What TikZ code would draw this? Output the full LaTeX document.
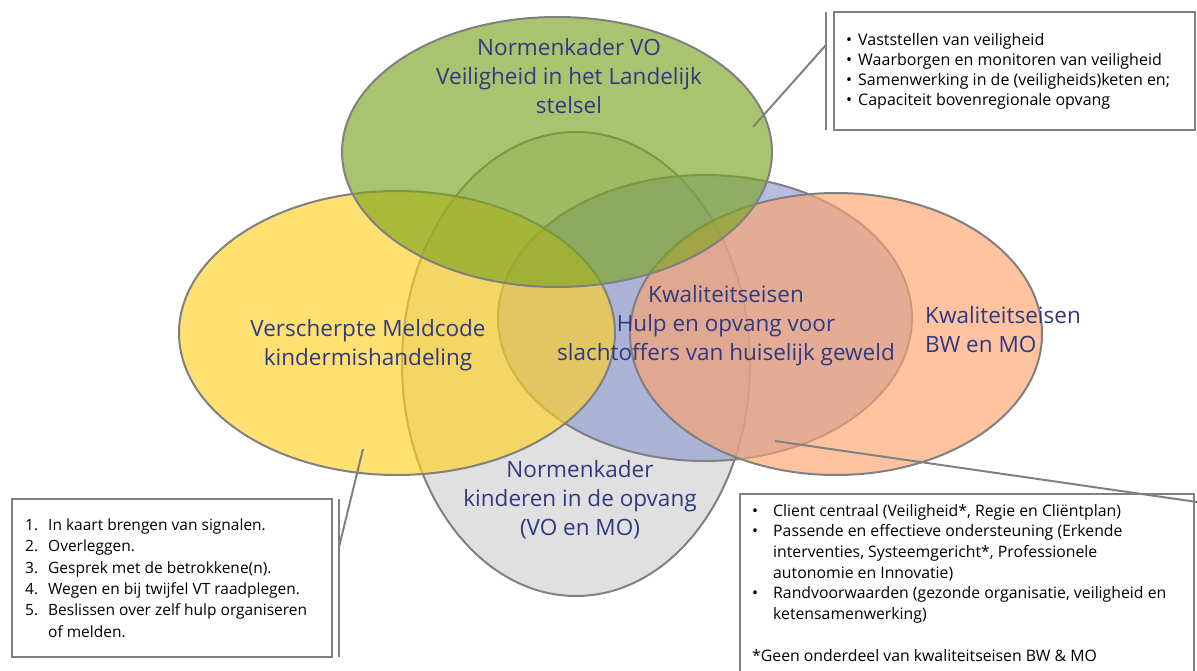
\documentclass[tikz,border=0pt]{standalone}
\usepackage{fontspec}
\setmainfont{Open Sans}
\definecolor{lbl}{RGB}{47,58,130}
\definecolor{cgreen}{RGB}{123,165,32}
\definecolor{cyellow}{RGB}{255,208,35}
\definecolor{cblue}{RGB}{142,155,208}
\definecolor{csalmon}{RGB}{255,163,109}
\definecolor{cgrey}{RGB}{208,208,208}
\definecolor{edgegrey}{RGB}{128,128,128}
\newcommand{\tbul}[1]{\strut\makebox[#1][l]{•}}
\begin{document}
\begin{tikzpicture}[x=1pt,y=-1pt,
  setshape/.style={fill=#1, fill opacity=0.65, draw=edgegrey, line width=2pt},
  lbltext/.style={text=lbl, font=\fontsize{22.5}{29}\selectfont, align=center, inner sep=0pt},
  boxtext/.style={text=black, align=left, inner sep=0pt, anchor=north west},
  frame/.style={draw=edgegrey, line width=2.3pt},
  callout/.style={draw=edgegrey, line width=2pt},
]
\useasboundingbox (0,0) rectangle (1197,671);
% sets
\draw[setshape=cgrey]   (576,364) ellipse [x radius=174pt, y radius=232pt];
\draw[setshape=cblue]   (705,318) ellipse [x radius=207pt, y radius=143pt];
\draw[setshape=cyellow] (397,333) ellipse [x radius=218pt, y radius=142pt];
\draw[setshape=csalmon] (836,334) ellipse [x radius=206pt, y radius=141pt];
\draw[setshape=cgreen]  (557,152) ellipse [x radius=215pt, y radius=135pt];
% labels
\node[lbltext] (tgreen) at (569,79) {\strut Normenkader VO\\\strut Veiligheid in het Landelijk\\\strut stelsel};
\node[lbltext] (tyellow) at (368,345) {\strut Verscherpte Meldcode\\\strut kindermishandeling};
\node[lbltext] (tblue) at (726,326) {\strut Kwaliteitseisen\\\strut Hulp en opvang voor\\\strut slachtoffers van huiselijk geweld};
\node[lbltext, align=left, anchor=west] (tsalmon) at (925,332.5) {\strut Kwaliteitseisen\\\strut BW en MO};
\node[lbltext] (tgrey) at (580,501) {\strut Normenkader\\\strut kinderen in de opvang\\\strut (VO en MO)};
% top right box
\draw[frame] (834,12) rectangle (1195,130);
\coordinate (trTop) at (826,12);
\coordinate (trBot) at (826,130);
\draw[frame] (trTop) -- (trBot);
\coordinate (trIn) at (753,127);
\coordinate (trOut) at (826,45);
\draw[callout] (trIn) -- (trOut);
\node[boxtext, font=\fontsize{16}{20}\selectfont] (trtext) at (846,31.8) {%
\tbul{12pt}Vaststellen van veiligheid\\
\tbul{12pt}Waarborgen en monitoren van veiligheid\\
\tbul{12pt}Samenwerking in de (veiligheids)keten en;\\
\tbul{12pt}Capaciteit bovenregionale opvang};
% bottom left box
\draw[frame] (12,499) rectangle (332,657);
\coordinate (blTop) at (339,499);
\coordinate (blBot) at (339,657);
\draw[frame] (blTop) -- (blBot);
\coordinate (blIn) at (363,449);
\coordinate (blOut) at (339,547);
\draw[callout] (blIn) -- (blOut);
\node[boxtext, font=\fontsize{15.5}{21.4}\selectfont] (bltext) at (25,515.2) {%
\strut\makebox[23pt][l]{1.}In kaart brengen van signalen.\\
\strut\makebox[23pt][l]{2.}Overleggen.\\
\strut\makebox[23pt][l]{3.}Gesprek met de betrokkene(n).\\
\strut\makebox[23pt][l]{4.}Wegen en bij twijfel VT raadplegen.\\
\strut\makebox[23pt][l]{5.}Beslissen over zelf hulp organiseren\\
\strut\hspace*{23pt}of melden.};
% bottom right box
\coordinate (brA) at (740,676);
\coordinate (brB) at (740,494);
\coordinate (brC) at (1194,494);
\coordinate (brD) at (1194,676);
\draw[frame] (brA) -- (brB) -- (brC) -- (brD);
\coordinate (brIn) at (775,441);
\coordinate (brOut) at (1197,502);
\draw[callout] (brIn) -- (brOut);
\node[boxtext, font=\fontsize{15.8}{20.7}\selectfont] (brtext) at (752,501.5) {%
\tbul{21pt}Client centraal (Veiligheid*, Regie en Cliëntplan)\\
\tbul{21pt}Passende en effectieve ondersteuning (Erkende\\
\strut\hspace*{21pt}interventies, Systeemgericht*, Professionele\\
\strut\hspace*{21pt}autonomie en Innovatie)\\
\tbul{21pt}Randvoorwaarden (gezonde organisatie, veiligheid en\\
\strut\hspace*{21pt}ketensamenwerking)\\
\strut\\
\strut *Geen onderdeel van kwaliteitseisen BW \& MO};
\end{tikzpicture}
\end{document}
